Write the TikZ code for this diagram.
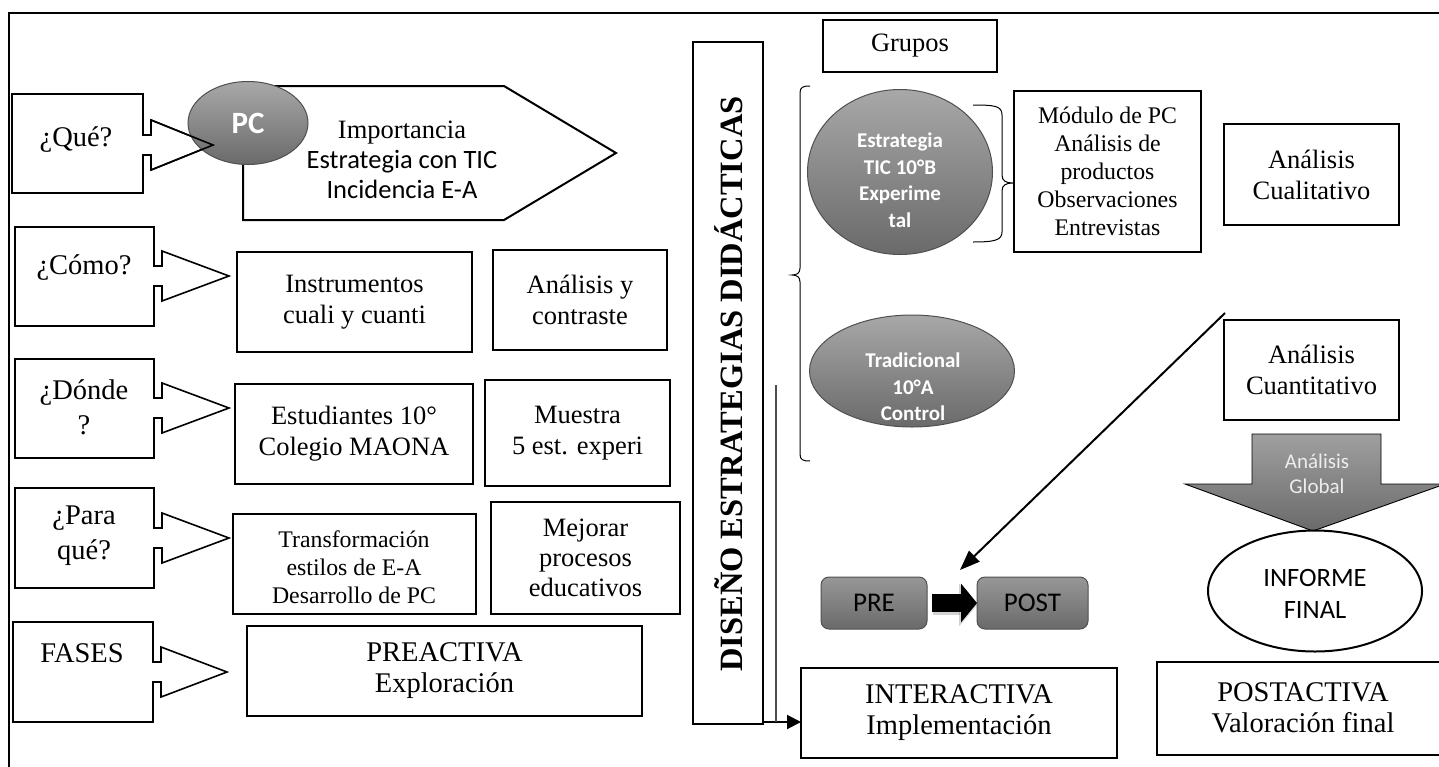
\documentclass[tikz,border=0pt]{standalone}
\usepackage{fontspec}
\setmainfont{Liberation Serif}
\newfontfamily\calibri{Carlito}
\usetikzlibrary{arrows.meta,shapes.geometric}

\definecolor{shadeTop}{HTML}{A8A8A8}
\definecolor{shadeBot}{HTML}{6A6A6A}
\definecolor{rimGray}{HTML}{505050}
\definecolor{paleText}{HTML}{EDEDED}

\newcommand\fsz[2]{\fontsize{#1}{#2}\selectfont}
% rectangular box given by its corners: [options]{name}{x1}{y1}{x2}{y2}{text}
\newcommand\rbox[7][]{\node[box,#1,minimum width={(#5-#3)*1pt},minimum height={(#6-#4)*1pt}]
  (#2) at ({(#3+#5)/2},{(#4+#6)/2}) {#7};}
% question box with its arrow: x1 y1 x2 y2, arrow axis y, arrow tip x
\newcommand\qcall[6]{\draw[callout] (#1,#2) -- (#3,#2) -- (#3,{#5-10}) -- ({#3+8},{#5-10})
  -- ({#3+8},{#5-25}) -- (#6,#5) -- ({#3+8},{#5+25}) -- ({#3+8},{#5+10}) -- (#3,{#5+10})
  -- (#3,#4) -- (#1,#4) -- cycle;}

\begin{document}
\begin{tikzpicture}[x=1pt,y=-1pt,
  every node/.style={inner sep=0pt, outer sep=0pt, align=center},
  box/.style={draw, line width=2.2pt, fill=white, font=\fsz{26.5}{31}},
  smalltext/.style={font=\fsz{23.8}{28}},
  phase/.style={font=\fsz{28.5}{31}},
  callout/.style={draw, line width=1.6pt, fill=white, line join=miter},
  qlabel/.style={font=\fsz{28.5}{35}},
  grayell/.style={ellipse, draw=rimGray, line width=1pt, top color=shadeTop, bottom color=shadeBot},
  whitebold/.style={text=white, font=\calibri\bfseries\fsz{21}{26.5}},
  graybtn/.style={draw=rimGray, line width=1pt, rounded corners=8pt, top color=shadeTop!90!black, bottom color=shadeBot,
    font=\calibri\fsz{27}{30}},
  thinline/.style={line width=1pt},
]
\useasboundingbox (0,0) rectangle (1439,766);

% outer frame
\draw[line width=2pt] (9,790) -- (9,13) -- (1460,13);

% ---------- left column: questions ----------
\draw[line width=2pt, fill=white, line join=miter] (243,86) -- (504,86) -- (616,153) -- (504,220) -- (243,220) -- cycle;
\qcall{12}{94}{143}{193}{145}{213}
\node[grayell, minimum width=120pt, minimum height=83pt, text=white, font=\calibri\bfseries\fsz{31}{31}] (pc) at (248,123) {PC};
\draw[line width=1.6pt, line join=miter] (151,120) -- (213,145) -- (151,170);
\node[font=\fsz{26.5}{30}] (pctext) at (402,160) {Importancia\\{\calibri Estrategia con TIC}\\{\calibri Incidencia E-A}};
\node[qlabel] (que) at (76,140) {¿Qué?};

\qcall{15}{227}{154}{326}{276}{229}
\node[qlabel] (como) at (84,268) {¿Cómo?};
\qcall{15}{359}{154}{458}{408}{229}
\node[qlabel] (donde) at (84,407) {¿Dónde\\?};
\qcall{15}{488}{154}{588}{538}{229}
\node[qlabel] (paraque) at (84,536) {¿Para\\qué?};
\qcall{13}{622}{153}{722}{672}{227}
\node[qlabel] (fases) at (82,653) {FASES};

\rbox{instr}{237}{252}{472}{352}{Instrumentos\\cuali y cuanti}
\rbox{contr}{493}{250}{667}{350}{Análisis y\\contraste}
\rbox{estud}{235}{384}{473}{484}{Estudiantes 10°\\Colegio MAONA}
\rbox{muestra}{485}{380}{670}{486}{Muestra\\5 est. experi}
\rbox{transf}{233}{514}{476}{614}{}
\begin{scope}
  \clip (233,514) rectangle (476,603);
  \node[smalltext] (transftext) at (354,567) {Transformación\\estilos de E-A\\Desarrollo de PC};
\end{scope}
\rbox[font=\fsz{26.5}{30}]{mejorar}{491}{502}{680}{614}{Mejorar\\procesos\\educativos}
\rbox[phase]{preact}{247}{626}{642}{716}{PREACTIVA\\Exploración}

% ---------- central bar ----------
\node[draw, line width=2.2pt, fill=white, minimum width=70pt, minimum height=682pt] (bar) at (728,383) {};
\node[rotate=90, font=\bfseries\fsz{32.5}{32.5}] (bartext) at (729,384) {DISEÑO ESTRATEGIAS DIDÁCTICAS};

% ---------- groups ----------
\rbox{grupos}{823}{20}{997}{72}{Grupos}
\draw[thinline] (810,86) .. controls (803,86) and (800,87) .. (800,93) -- (800,268)
  .. controls (800,273) and (797,275) .. (792,275) .. controls (797,275) and (800,277) .. (800,282)
  -- (800,454) .. controls (800,460) and (803,461) .. (810,461);
\node[grayell, minimum width=185pt, minimum height=165pt] (estr) at (900,172) {};
\node[whitebold] (estrtext) at (900,180) {Estrategia\\TIC 10°B\\Experime\\tal};
\node[grayell, minimum width=205pt, minimum height=112pt] (trad) at (912,371) {};
\node[whitebold] (tradtext) at (913,387) {Tradicional\\10°A\\Control};
\draw[thinline] (973,105) .. controls (995,105) and (1002,106) .. (1002,115) -- (1002,175)
  .. controls (1002,181) and (1006,183) .. (1013,183) .. controls (1006,183) and (1002,185) .. (1002,191)
  -- (1002,232) .. controls (1002,240) and (995,242) .. (973,242);
\rbox[smalltext]{modulo}{1014}{91}{1201}{252}{Módulo de PC\\Análisis de\\productos\\Observaciones\\Entrevistas}
\rbox{cuali}{1224}{124}{1399}{225}{Análisis\\Cualitativo}
\rbox{cuanti}{1224}{320}{1399}{420}{Análisis\\Cuantitativo}

% ---------- pre / post ----------
\node[graybtn, minimum width=106pt, minimum height=52pt] (pre) at (874,603) {PRE};
\node[graybtn, minimum width=111pt, minimum height=52pt] (post) at (1032.5,603) {POST};
\draw[black!70, line width=20pt, -{Triangle[length=18pt,width=42pt]}, opacity=0.25] ([xshift=6pt,yshift=-2pt]pre.east) -- ([yshift=-2pt]post.west);
\draw[line width=18pt, -{Triangle[length=16pt,width=38pt]}] ([xshift=5pt]pre.east) -- (post.west);
\coordinate (diagtop) at (1225,313);
\coordinate (diagtip) at (960,570);
\draw[line width=2pt, -{Triangle[length=20pt,width=15pt]}] (diagtop) -- (diagtip);

% ---------- interactive phase ----------
\rbox[phase]{inter}{801}{668}{1117}{758}{INTERACTIVA\\Implementación}
\coordinate (barout) at ([yshift=2pt]bar.south east);
\draw[line width=2pt, -{Triangle[length=14pt,width=14pt]}] (barout) -- (barout -| inter.west);
\coordinate (thintop) at (776,385);
\draw[line width=1.2pt, black!70] (thintop) -- (thintop |- barout);

% ---------- global analysis ----------
\draw[line width=0.9pt, top color=shadeTop!95!black, bottom color=shadeBot] (1252,434) -- (1381,434) -- (1381,484) -- (1445,484)
  -- (1313,531) -- (1185,484) -- (1252,484) -- cycle;
\node[text=paleText, font=\calibri\fsz{21}{25}] (global) at (1317,474) {Análisis\\Global};
\node[ellipse, draw, line width=2pt, fill=white, minimum width=214pt, minimum height=121pt] (informe) at (1315,591) {};
\node[font=\calibri\fsz{26.5}{32}] (informetext) at (1315,594) {INFORME\\FINAL};
\rbox[phase]{postact}{1157}{662}{1450}{755}{}
\node[phase] (postacttext) at (1303,708) {POSTACTIVA\\Valoración final};
\end{tikzpicture}
\end{document}
